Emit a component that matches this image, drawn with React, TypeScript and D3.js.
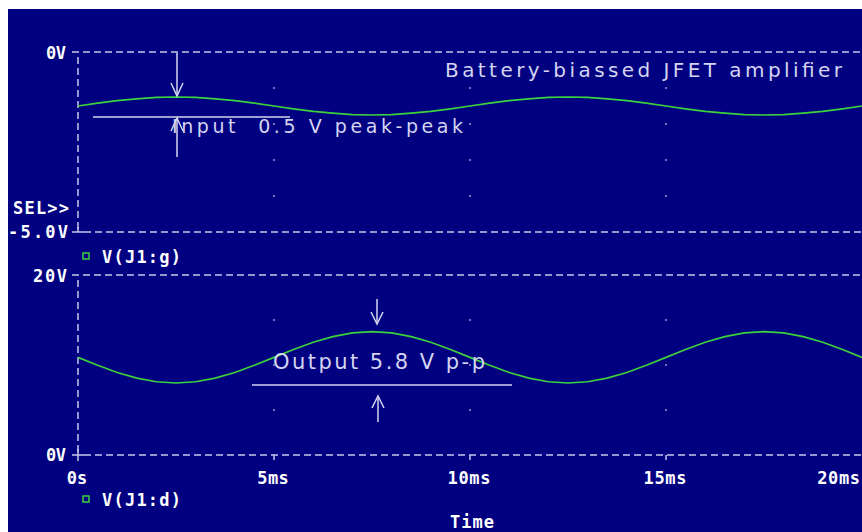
import React from "react";
import * as d3 from "d3";

const timeMs = [
  0, 0.5, 1, 1.5, 2, 2.5, 3, 3.5, 4, 4.5, 5, 5.5, 6, 6.5, 7, 7.5, 8, 8.5, 9, 9.5, 10,
  10.5, 11, 11.5, 12, 12.5, 13, 13.5, 14, 14.5, 15, 15.5, 16, 16.5, 17, 17.5, 18, 18.5, 19, 19.5, 20,
];
const vGate = [
  -1.5, -1.42, -1.35, -1.3, -1.26, -1.25, -1.26, -1.3, -1.35, -1.42, -1.5,
  -1.58, -1.65, -1.7, -1.74, -1.75, -1.74, -1.7, -1.65, -1.58, -1.5,
  -1.42, -1.35, -1.3, -1.26, -1.25, -1.26, -1.3, -1.35, -1.42, -1.5,
  -1.58, -1.65, -1.7, -1.74, -1.75, -1.74, -1.7, -1.65, -1.58, -1.5,
];
const vDrain = [
  10.85, 9.97, 9.17, 8.54, 8.14, 8.0, 8.14, 8.54, 9.17, 9.97, 10.85,
  11.73, 12.53, 13.16, 13.56, 13.7, 13.56, 13.16, 12.53, 11.73, 10.85,
  9.97, 9.17, 8.54, 8.14, 8.0, 8.14, 8.54, 9.17, 9.97, 10.85,
  11.73, 12.53, 13.16, 13.56, 13.7, 13.56, 13.16, 12.53, 11.73, 10.85,
];
const xTicks = [0, 5, 10, 15, 20];
const xTickLabels = ["0s", "5ms", "10ms", "15ms", "20ms"];
const topGridV = [-1, -2, -3, -4];
const botGridV = [5, 10, 15];
const topLabels = { max: "0V", min: "-5.0V" };
const botLabels = { max: "20V", min: "0V" };
const legendTop = "V(J1:g)";
const legendBot = "V(J1:d)";
const titleText = "Battery-biassed JFET amplifier";
const inputNote = "Input  0.5 V peak-peak";
const outputNote = "Output 5.8 V p-p";

const NAVY = "#000080";
const AX = "#c8c8ec";
const GREEN = "#3cd23c";
const NOTE = "#d4d4f0";

export default function App() {
  const x = d3.scaleLinear().domain([0, 20]).range([78, 862]);
  const yTop = d3.scaleLinear().domain([-5, 0]).range([232, 52]);
  const yBot = d3.scaleLinear().domain([0, 20]).range([455, 275]);

  const lineTop = d3
    .line<number>()
    .x((_, i) => x(timeMs[i]))
    .y((d) => yTop(d));
  const lineBot = d3
    .line<number>()
    .x((_, i) => x(timeMs[i]))
    .y((d) => yBot(d));

  const mono: React.CSSProperties = {
    fontFamily: "'DejaVu Sans Mono', monospace",
    fontWeight: 700,
    fontSize: 17,
  };
  const note: React.CSSProperties = {
    fontFamily: "'DejaVu Sans', sans-serif",
    fontWeight: 400,
  };
  const dash = "7,4";

  const axX0 = x(0);
  const axX1 = x(20);

  return (
    <svg
      width={862}
      height={532}
      style={{ display: "block", position: "absolute", left: 0, top: 0 }}
    >
      <rect x={8} y={9} width={854} height={523} fill={NAVY} />

      {/* ---------- top plot ---------- */}
      <line x1={72} x2={axX1} y1={yTop(0)} y2={yTop(0)} stroke={AX} strokeWidth={1.5} strokeDasharray={dash} />
      <line x1={axX0} x2={axX0} y1={yTop(0) + 5} y2={yTop(-5)} stroke={AX} strokeWidth={1.5} strokeDasharray={dash} />
      <line x1={84} x2={axX1} y1={yTop(-5)} y2={yTop(-5)} stroke={AX} strokeWidth={1.5} strokeDasharray={dash} />
      <line x1={72} x2={84} y1={yTop(-5)} y2={yTop(-5)} stroke={AX} strokeWidth={1.5} />
      <line x1={axX0} x2={axX0} y1={yTop(-5) - 5} y2={yTop(-5)} stroke={AX} strokeWidth={1.5} />
      {xTicks.slice(1, 4).map((t) =>
        topGridV.map((v) => (
          <rect key={`tg${t}_${v}`} x={x(t) - 0.75} y={yTop(v) - 0.75} width={1.5} height={1.5} fill={AX} />
        ))
      )}
      <path d={lineTop(vGate) ?? ""} fill="none" stroke={GREEN} strokeWidth={1.7} />

      <text x={46} y={yTop(0) + 7} fill="#fff" style={mono} textLength={20}>
        {topLabels.max}
      </text>
      <text x={13} y={214} fill="#fff" style={mono} textLength={56}>SEL&gt;&gt;</text>
      <text x={8} y={yTop(-5) + 6} fill="#fff" style={mono} textLength={60}>
        {topLabels.min}
      </text>
      <rect x={83} y={253} width={6} height={6} fill="none" stroke={GREEN} strokeWidth={1.5} />
      <text x={102} y={263} fill="#fff" style={mono} textLength={79}>
        {legendTop}
      </text>

      {/* annotations top */}
      <text x={445} y={77} fill={NOTE} style={{ ...note, fontSize: 20 }} textLength={397} lengthAdjust="spacing">
        {titleText}
      </text>
      <line x1={93} x2={290} y1={117} y2={117} stroke={NOTE} strokeWidth={1.5} />
      <line x1={177} x2={177} y1={53} y2={96} stroke={NOTE} strokeWidth={1.5} />
      <path d="M171,83 L177,96 L183,83" fill="none" stroke={NOTE} strokeWidth={1.5} />
      <line x1={177} x2={177} y1={118} y2={157} stroke={NOTE} strokeWidth={1.5} />
      <path d="M171,131 L177,118 L183,131" fill="none" stroke={NOTE} strokeWidth={1.5} />
      <text x={172} y={133} fill={NOTE} style={{ ...note, fontSize: 19 }} textLength={291} lengthAdjust="spacing" xmlSpace="preserve">
        {inputNote}
      </text>

      {/* ---------- bottom plot ---------- */}
      <line x1={72} x2={axX1} y1={yBot(20)} y2={yBot(20)} stroke={AX} strokeWidth={1.5} strokeDasharray={dash} />
      <line x1={axX0} x2={axX0} y1={yBot(20) + 5} y2={yBot(0)} stroke={AX} strokeWidth={1.5} strokeDasharray={dash} />
      <line x1={84} x2={axX1} y1={yBot(0)} y2={yBot(0)} stroke={AX} strokeWidth={1.5} strokeDasharray={dash} />
      <line x1={72} x2={84} y1={yBot(0)} y2={yBot(0)} stroke={AX} strokeWidth={1.5} />
      <line x1={axX0} x2={axX0} y1={yBot(0) - 6} y2={yBot(0) + 6} stroke={AX} strokeWidth={1.5} />
      {xTicks.slice(1, 4).map((t) => (
        <line key={`bt${t}`} x1={x(t)} x2={x(t)} y1={yBot(0)} y2={yBot(0) + 5} stroke={AX} strokeWidth={1.5} />
      ))}
      {xTicks.slice(1, 4).map((t) =>
        botGridV.map((v) => (
          <rect key={`bg${t}_${v}`} x={x(t) - 0.75} y={yBot(v) - 0.75} width={1.5} height={1.5} fill={AX} />
        ))
      )}
      <path d={lineBot(vDrain) ?? ""} fill="none" stroke={GREEN} strokeWidth={1.7} />

      <text x={33} y={yBot(20) + 7} fill="#fff" style={mono} textLength={34}>
        {botLabels.max}
      </text>
      <text x={46} y={yBot(0) + 6} fill="#fff" style={mono} textLength={20}>
        {botLabels.min}
      </text>

      {xTicks.map((t, i) => {
        const lbl = xTickLabels[i];
        const w = lbl.length * 11.2;
        let lx = x(t) - w / 2;
        if (i === xTicks.length - 1) lx = 862 - w;
        return (
          <text key={`xl${t}`} x={lx} y={484} fill="#fff" style={mono} textLength={w - 2}>
            {lbl}
          </text>
        );
      })}
      <rect x={83} y={496} width={6} height={6} fill="none" stroke={GREEN} strokeWidth={1.5} />
      <text x={102} y={506} fill="#fff" style={mono} textLength={79}>
        {legendBot}
      </text>
      <text x={450} y={528} fill="#fff" style={mono} textLength={44}>
        Time
      </text>

      {/* annotations bottom */}
      <line x1={252} x2={512} y1={385} y2={385} stroke={NOTE} strokeWidth={1.5} />
      <line x1={377} x2={377} y1={299} y2={324} stroke={NOTE} strokeWidth={1.5} />
      <path d="M371,312 L377,324 L383,312" fill="none" stroke={NOTE} strokeWidth={1.5} />
      <line x1={378} x2={378} y1={396} y2={422} stroke={NOTE} strokeWidth={1.5} />
      <path d="M372,408 L378,396 L384,408" fill="none" stroke={NOTE} strokeWidth={1.5} />
      <text x={273} y={369} fill={NOTE} style={{ ...note, fontSize: 21 }} textLength={212} lengthAdjust="spacing">
        {outputNote}
      </text>
    </svg>
  );
}
